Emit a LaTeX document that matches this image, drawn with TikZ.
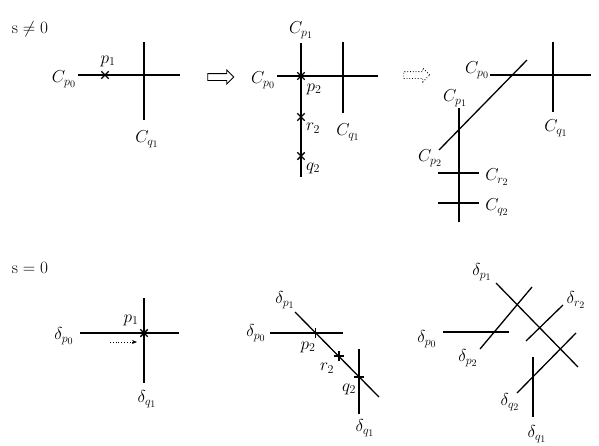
\documentclass[tikz,border=0pt]{standalone}
\usepackage{amsmath,amssymb}
\usetikzlibrary{arrows.meta,shapes.misc,shapes.arrows}

\tikzset{
  curve/.style={line width=1.3pt},
  lbl/.style={font=\LARGE,inner sep=0pt},
  xmark/.style={draw,cross out,line width=1.4pt,minimum size=6pt,inner sep=0pt},
  hollowarrow/.style={draw,single arrow,single arrow head extend=3.5pt,minimum height=26pt,inner sep=3pt,line width=0.8pt},
}

\begin{document}
\begin{tikzpicture}[x=1pt,y=-1pt]
\useasboundingbox (0,0) rectangle (599,445);
% ---- s != 0 ----
\node[lbl] (sne) at (30,29) {$\mathrm{s}\neq0$};
% first picture: C_{p0} meets C_{q1}
\coordinate (a1) at (78,75);  \coordinate (a2) at (180,75);
\coordinate (a3) at (144,42); \coordinate (a4) at (144,120);
\draw[curve] (a1) -- (a2);
\draw[curve] (a3) -- (a4);
\node[xmark] (ap1) at (105,75) {};
\node[lbl] (aCp0) at (64,79) {$C_{p_0}$};
\node[lbl] (ap1l) at (108,61) {$p_1$};
\node[lbl] (aCq1) at (147,139) {$C_{q_1}$};
\node[hollowarrow] (imp) at (219,77) {};
% second picture: blow up at p1
\coordinate (b1) at (277,76); \coordinate (b2) at (378,76);
\coordinate (b3) at (301,43); \coordinate (b4) at (301,177);
\coordinate (b5) at (343,42); \coordinate (b6) at (343,113);
\draw[curve] (b1) -- (b2);
\draw[curve] (b3) -- (b4);
\draw[curve] (b5) -- (b6);
\node[xmark] (bp2) at (301,76) {};
\node[xmark] (br2) at (301,117) {};
\node[xmark] (bq2) at (301,156) {};
\node[lbl] (bCp1) at (301,30) {$C_{p_1}$};
\node[lbl] (bCp0) at (263,80) {$C_{p_0}$};
\node[lbl] (bp2l) at (314,89) {$p_2$};
\node[lbl] (br2l) at (313,128) {$r_2$};
\node[lbl] (bq2l) at (313,168) {$q_2$};
\node[lbl] (bCq1) at (348,132) {$C_{q_1}$};
\node[hollowarrow,dotted] (impd) at (415,75) {};
% third picture
\coordinate (c1) at (490,75);  \coordinate (c2) at (591,75);
\coordinate (c3) at (553,42);  \coordinate (c4) at (553,112);
\coordinate (c5) at (527,60);  \coordinate (c6) at (439,150);
\coordinate (c7) at (459,108); \coordinate (c8) at (459,222);
\coordinate (c9) at (438,173); \coordinate (c10) at (479,173);
\coordinate (c11) at (438,203); \coordinate (c12) at (479,203);
\draw[curve] (c1) -- (c2);
\draw[curve] (c3) -- (c4);
\draw[curve] (c5) -- (c6);
\draw[curve] (c7) -- (c8);
\draw[curve] (c9) -- (c10);
\draw[curve] (c11) -- (c12);
\node[lbl] (cCp0) at (477,70) {$C_{p_0}$};
\node[lbl] (cCq1) at (556,128) {$C_{q_1}$};
\node[lbl] (cCp1) at (455,98) {$C_{p_1}$};
\node[lbl] (cCp2) at (430,158) {$C_{p_2}$};
\node[lbl] (cCr2) at (497,177) {$C_{r_2}$};
\node[lbl] (cCq2) at (497,207) {$C_{q_2}$};
% ---- s = 0 ----
\node[lbl] (seq) at (30,268) {$\mathrm{s}=0$};
% first picture
\coordinate (d1) at (80,333);  \coordinate (d2) at (179,333);
\coordinate (d3) at (144,298); \coordinate (d4) at (144,383);
\draw[curve] (d1) -- (d2);
\draw[curve] (d3) -- (d4);
\node[xmark] (dp1) at (144,333) {};
\node[lbl] (dp1l) at (131,320) {$p_1$};
\node[lbl] (ddp0) at (64,336) {$\delta_{p_0}$};
\node[lbl] (ddq1) at (147,399) {$\delta_{q_1}$};
\coordinate (ds) at (110,342); \coordinate (de) at (137,342);
\draw[dotted,thick,-{Stealth[length=5pt,width=4pt]}] (ds) -- (de);
% second picture
\coordinate (e1) at (270,333); \coordinate (e2) at (343,333);
\coordinate (e3) at (295,312); \coordinate (e4) at (379,397);
\coordinate (e5) at (359,349); \coordinate (e6) at (359,414);
\draw[curve] (e1) -- (e2);
\draw[curve] (e3) -- (e4);
\draw[curve] (e5) -- (e6);
\node[xmark,rotate=45] (ep2) at (315.5,333) {};
\node[xmark,rotate=45] (er2) at (339,356) {};
\node[xmark,rotate=45] (eq2) at (359,377) {};
\node[lbl] (edp1) at (285,300) {$\delta_{p_1}$};
\node[lbl] (edp0) at (256,333) {$\delta_{p_0}$};
\node[lbl] (ep2l) at (308,347) {$p_2$};
\node[lbl] (er2l) at (327,368) {$r_2$};
\node[lbl] (eq2l) at (349,389) {$q_2$};
\node[lbl] (edq1) at (365,428) {$\delta_{q_1}$};
% third picture
\coordinate (f1) at (443,332);  \coordinate (f2) at (509,332);
\coordinate (f3) at (496,283);  \coordinate (f4) at (578,367);
\coordinate (f5) at (532,287);  \coordinate (f6) at (480,349);
\coordinate (f7) at (563,305);  \coordinate (f8) at (526,341);
\coordinate (f9) at (576,333);  \coordinate (f10) at (517,393);
\coordinate (f11) at (533,357); \coordinate (f12) at (533,417);
\draw[curve] (f1) -- (f2);
\draw[curve] (f3) -- (f4);
\draw[curve] (f5) -- (f6);
\draw[curve] (f7) -- (f8);
\draw[curve] (f9) -- (f10);
\draw[curve] (f11) -- (f12);
\node[lbl] (fdp1) at (482,272) {$\delta_{p_1}$};
\node[lbl] (fdp0) at (427,339) {$\delta_{p_0}$};
\node[lbl] (fdp2) at (468,358) {$\delta_{p_2}$};
\node[lbl] (fdr2) at (576,300) {$\delta_{r_2}$};
\node[lbl] (fdq2) at (510,402) {$\delta_{q_2}$};
\node[lbl] (fdq1) at (537,434) {$\delta_{q_1}$};
\end{tikzpicture}
\end{document}
